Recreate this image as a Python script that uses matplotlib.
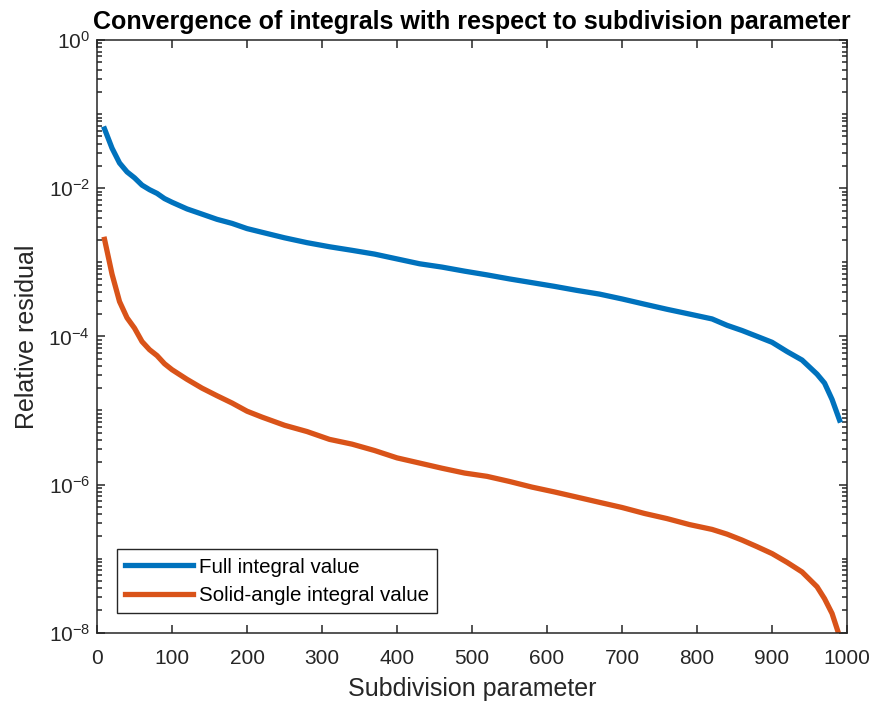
import numpy as np
import matplotlib
matplotlib.use('Agg')
import matplotlib.pyplot as plt
from matplotlib.ticker import FixedLocator, FixedFormatter, NullFormatter

plt.rcParams['font.family'] = ['Liberation Sans', 'DejaVu Sans']
plt.rcParams['mathtext.fontset'] = 'custom'
plt.rcParams['mathtext.rm'] = 'Liberation Sans'
plt.rcParams['mathtext.it'] = 'Liberation Sans:italic'
plt.rcParams['mathtext.bf'] = 'Liberation Sans:bold'
plt.rcParams['axes.unicode_minus'] = False

# subdivision parameter values
subdiv = [10, 20, 30, 40, 50, 60, 70, 80, 90, 100,
          120, 140, 160, 180, 200, 220, 250, 280, 310, 340,
          370, 400, 430, 460, 490, 520, 550, 580, 610, 640,
          670, 700, 730, 760, 790, 820, 840, 860, 880, 900,
          920, 940, 960, 970, 980, 990]

full_res = [6.31e-2, 3.47e-2, 2.19e-2, 1.66e-2, 1.38e-2, 1.10e-2, 9.55e-3, 8.51e-3, 7.24e-3, 6.46e-3,
            5.25e-3, 4.47e-3, 3.80e-3, 3.35e-3, 2.85e-3, 2.54e-3, 2.14e-3, 1.84e-3, 1.62e-3, 1.45e-3,
            1.29e-3, 1.11e-3, 9.55e-4, 8.61e-4, 7.59e-4, 6.76e-4, 5.96e-4, 5.31e-4, 4.73e-4, 4.17e-4,
            3.72e-4, 3.20e-4, 2.72e-4, 2.32e-4, 2.00e-4, 1.72e-4, 1.41e-4, 1.20e-4, 1.00e-4, 8.32e-5,
            6.24e-5, 4.79e-5, 3.09e-5, 2.34e-5, 1.41e-5, 7.41e-6]

solid_res = [2.04e-3, 6.92e-4, 2.95e-4, 1.78e-4, 1.29e-4, 8.51e-5, 6.61e-5, 5.50e-5, 4.27e-5, 3.55e-5,
             2.63e-5, 2.00e-5, 1.58e-5, 1.26e-5, 9.77e-6, 8.13e-6, 6.31e-6, 5.19e-6, 4.07e-6, 3.51e-6,
             2.88e-6, 2.29e-6, 1.95e-6, 1.66e-6, 1.43e-6, 1.29e-6, 1.10e-6, 9.23e-7, 7.94e-7, 6.76e-7,
             5.75e-7, 4.90e-7, 4.07e-7, 3.47e-7, 2.88e-7, 2.48e-7, 2.14e-7, 1.78e-7, 1.45e-7, 1.17e-7,
             8.91e-8, 6.61e-8, 4.17e-8, 2.88e-8, 1.82e-8, 8.91e-9]

series_names = ['Full integral value', 'Solid-angle integral value']
ytick_vals = [1e-8, 1e-6, 1e-4, 1e-2, 1e0]
ytick_labels = [r'$\mathdefault{10^{-8}}$', r'$\mathdefault{10^{-6}}$', r'$\mathdefault{10^{-4}}$',
                r'$\mathdefault{10^{-2}}$', r'$\mathdefault{10^{0}}$']
xtick_vals = [0, 100, 200, 300, 400, 500, 600, 700, 800, 900, 1000]

axcol = '#262626'
fig = plt.figure(figsize=(8.71, 7.06), dpi=100)
ax = fig.add_axes([0.1114, 0.1038, 0.8611, 0.8395])

ax.plot(subdiv, full_res, color='#0072BD', lw=3.8, label=series_names[0])
ax.plot(subdiv, solid_res, color='#D95319', lw=3.8, label=series_names[1])

ax.set_yscale('log')
ax.set_xlim(0, 1000)
ax.set_ylim(1e-8, 1e0)

ax.yaxis.set_major_locator(FixedLocator(ytick_vals))
ax.yaxis.set_major_formatter(FixedFormatter(ytick_labels))
minors = [m * 10.0 ** k for k in range(-8, 0) for m in range(1, 10)
          if not (m == 1 and k % 2 == 0)]
ax.yaxis.set_minor_locator(FixedLocator(minors))
ax.yaxis.set_minor_formatter(NullFormatter())
ax.set_xticks(xtick_vals)
ax.set_xticklabels([str(v) for v in xtick_vals])

ax.tick_params(which='both', direction='in', top=True, right=True, colors=axcol,
               labelcolor=axcol, labelsize=15, width=1.1)
ax.tick_params(which='major', length=6)
ax.tick_params(which='minor', length=3.5)
ax.tick_params(axis='x', pad=12)
ax.tick_params(axis='y', pad=5)
for sp in ax.spines.values():
    sp.set_color(axcol)
    sp.set_linewidth(1.1)

ax.set_xlabel('Subdivision parameter', fontsize=18, color=axcol, labelpad=6)
ax.set_ylabel('Relative residual', fontsize=18, color=axcol, labelpad=7)
ax.set_title('Convergence of integrals with respect to subdivision parameter',
             fontsize=18, fontweight='bold', pad=8)

leg = ax.legend(loc='lower left', bbox_to_anchor=(0.026, 0.033), fontsize=14.8,
                frameon=True, fancybox=False, edgecolor=axcol, framealpha=1,
                handlelength=3.3, handletextpad=0.3, borderpad=0.4,
                labelspacing=0.45, borderaxespad=0)
leg.get_frame().set_linewidth(1.0)
for t in leg.get_texts():
    t.set_color('black')

fig.savefig('out.png', dpi=100)
